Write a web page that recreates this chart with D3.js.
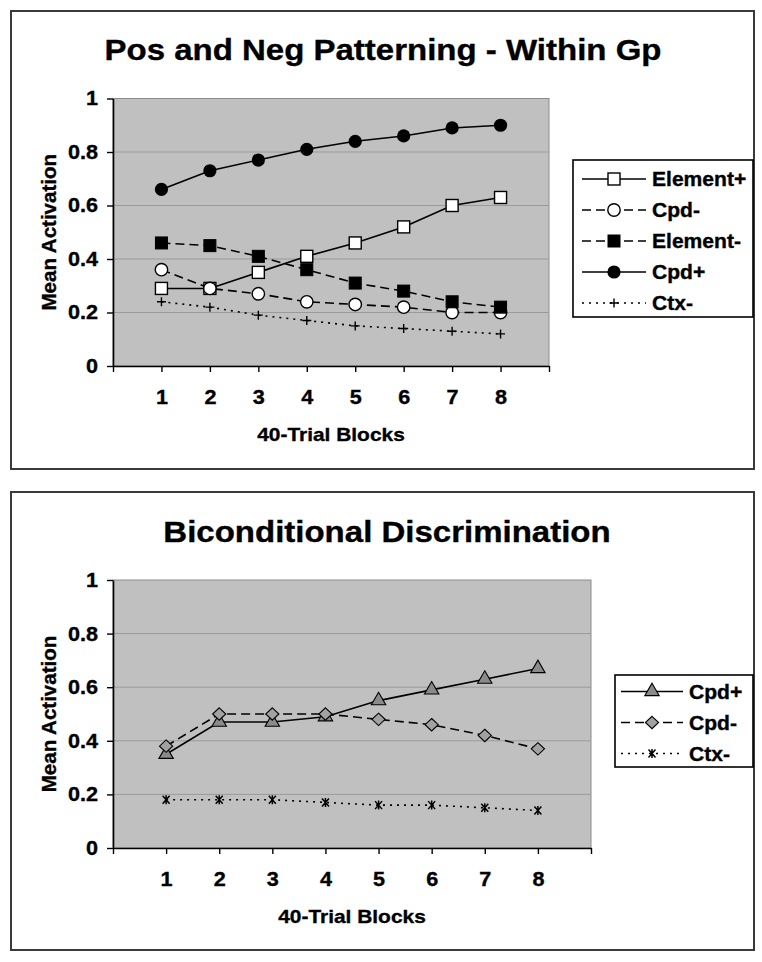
<!DOCTYPE html>
<html><head><meta charset="utf-8">
<script src="https://cdn.jsdelivr.net/npm/d3@7"></script>
<style>
body{margin:0;background:#fff}
text{font-family:"Liberation Sans",Arial,Helvetica,sans-serif;font-weight:bold;fill:#000;stroke:#000;stroke-width:0.35px}
</style>
</head><body>
<svg id="c" width="762" height="962"></svg>
<script>
// ---------- data ----------
const blocks = [1, 2, 3, 4, 5, 6, 7, 8];
const xTicks = [0, 1, 2, 3, 4, 5, 6, 7, 8, 9];
const yTicks = [0, 0.2, 0.4, 0.6, 0.8, 1];
const yTickLabels = ["0", "0.2", "0.4", "0.6", "0.8", "1"];

const topTitle = "Pos and Neg Patterning - Within Gp";
const bottomTitle = "Biconditional Discrimination";
const xTitle = "40-Trial Blocks";
const yTitle = "Mean Activation";

const topNames = ["Element+", "Cpd-", "Element-", "Cpd+", "Ctx-"];
const elementPlus  = [0.29, 0.29, 0.35, 0.41, 0.46, 0.52, 0.60, 0.63];
const cpdMinus     = [0.36, 0.29, 0.27, 0.24, 0.23, 0.22, 0.20, 0.20];
const elementMinus = [0.46, 0.45, 0.41, 0.36, 0.31, 0.28, 0.24, 0.22];
const cpdPlus      = [0.66, 0.73, 0.77, 0.81, 0.84, 0.86, 0.89, 0.90];
const ctxMinus     = [0.24, 0.22, 0.19, 0.17, 0.15, 0.14, 0.13, 0.12];

const bottomNames = ["Cpd+", "Cpd-", "Ctx-"];
const bicCpdPlus  = [0.35, 0.47, 0.47, 0.49, 0.55, 0.59, 0.63, 0.67];
const bicCpdMinus = [0.38, 0.50, 0.50, 0.50, 0.48, 0.46, 0.42, 0.37];
const bicCtxMinus = [0.18, 0.18, 0.18, 0.17, 0.16, 0.16, 0.15, 0.14];

// ---------- styles ----------
const DASH = {solid: null, dashed: "9,5", dotted: "2,5"};
const topStyles = [
  {dash: "solid", marker: "squareOpen"},
  {dash: "dashed", marker: "circleOpen"},
  {dash: "dashed", marker: "squareFilled"},
  {dash: "solid", marker: "circleFilled"},
  {dash: "dotted", marker: "plus"}
];
const bottomStyles = [
  {dash: "solid", marker: "triangle"},
  {dash: "dashed", marker: "diamond"},
  {dash: "dotted", marker: "star"}
];

const svg = d3.select("#c");
const STRETCH = 1.08;

function stretch(sel, k) {
  sel.each(function () {
    const L = this.getComputedTextLength();
    this.setAttribute("textLength", L * k);
    this.setAttribute("lengthAdjust", "spacingAndGlyphs");
  });
}

function drawMarker(g, type, x, y) {
  const m = g.append("g").attr("transform", `translate(${x},${y})`);
  switch (type) {
    case "squareOpen":
      m.append("rect").attr("x", -6).attr("y", -6).attr("width", 12).attr("height", 12)
        .attr("fill", "#fff").attr("stroke", "#000").attr("stroke-width", 1.4); break;
    case "squareFilled":
      m.append("rect").attr("x", -6).attr("y", -6).attr("width", 12).attr("height", 12)
        .attr("fill", "#000").attr("stroke", "#000").attr("stroke-width", 1); break;
    case "circleOpen":
      m.append("circle").attr("r", 6.2).attr("fill", "#fff").attr("stroke", "#000").attr("stroke-width", 1.4); break;
    case "circleFilled":
      m.append("circle").attr("r", 6.6).attr("fill", "#000"); break;
    case "plus":
      m.append("path").attr("d", "M-4.5,0H4.5M0,-4.5V4.5").attr("stroke", "#000").attr("stroke-width", 1.4); break;
    case "triangle":
      m.append("path").attr("d", d3.symbol(d3.symbolTriangle, 90)())
        .attr("fill", "#8a8a8a").attr("stroke", "#000").attr("stroke-width", 1.1); break;
    case "diamond":
      m.append("path").attr("d", "M0,-6.2L6.6,0L0,6.2L-6.6,0Z")
        .attr("fill", "#a2a2a2").attr("stroke", "#000").attr("stroke-width", 1.1); break;
    case "star":
      m.append("path").attr("d", "M-3.5,-4L3.5,4M-3.5,4L3.5,-4M0,-4.5V4.5")
        .attr("stroke", "#000").attr("stroke-width", 1.5); break;
  }
}

function panel(cfg) {
  const g = svg.append("g");
  // frame
  g.append("rect").attr("x", cfg.frame[0]).attr("y", cfg.frame[1])
    .attr("width", cfg.frame[2]).attr("height", cfg.frame[3])
    .attr("fill", "#fff").attr("stroke", "#3a3a3a").attr("stroke-width", 2);

  const [L, T, R, B] = cfg.plot;
  const x = d3.scaleLinear().domain([0, 9]).range([L, R]);
  const y = d3.scaleLinear().domain([0, 1]).range([B, T]);

  // plot area
  g.append("rect").attr("x", L).attr("y", T).attr("width", R - L).attr("height", B - T)
    .attr("fill", "#c0c0c0").attr("stroke", "#8c8c8c").attr("stroke-width", 1);
  g.selectAll(".grid").data(yTicks.filter(v => v > 0 && v < 1)).enter().append("line")
    .attr("x1", L).attr("x2", R).attr("y1", d => y(d)).attr("y2", d => y(d))
    .attr("stroke", "#9a9a9a").attr("stroke-width", 1);

  // axes
  const ya = g.append("g").attr("transform", `translate(${L},0)`)
    .call(d3.axisLeft(y).tickValues(yTicks).tickFormat((d, i) => yTickLabels[i])
      .tickSize(6).tickSizeOuter(0).tickPadding(9));
  const xa = g.append("g").attr("transform", `translate(0,${B})`)
    .call(d3.axisBottom(x).tickValues(xTicks).tickFormat(d => blocks.includes(d) ? String(d) : "")
      .tickSize(6).tickSizeOuter(0).tickPadding(18));
  [ya, xa].forEach(a => {
    a.select(".domain").attr("stroke", "#000").attr("stroke-width", 1.6);
    a.selectAll(".tick line").attr("stroke", "#000").attr("stroke-width", 1.4);
    a.selectAll("text").attr("font-size", 20).attr("font-family", null).attr("fill", "#000");
  });
  ya.selectAll(".tick text").call(stretch, STRETCH);
  xa.selectAll(".tick text").call(stretch, STRETCH);

  // titles
  g.append("text").attr("x", cfg.titlePos[0]).attr("y", cfg.titlePos[1])
    .attr("text-anchor", "middle").attr("font-size", 30).text(cfg.title).call(stretch, 1.1);
  g.append("text").attr("x", (L + R) / 2).attr("y", B + 75)
    .attr("text-anchor", "middle").attr("font-size", 19).text(xTitle).call(stretch, 1.1);
  g.append("text").attr("transform", `translate(${L - 57},${(T + B) / 2}) rotate(-90)`)
    .attr("text-anchor", "middle").attr("font-size", 20.5).text(yTitle);

  // series
  const line = d3.line().x((d, i) => x(blocks[i])).y(d => y(d));
  cfg.series.forEach((vals, si) => {
    const st = cfg.styles[si];
    g.append("path").attr("d", line(vals)).attr("fill", "none").attr("stroke", "#000")
      .attr("stroke-width", 1.6).attr("stroke-dasharray", DASH[st.dash]);
    vals.forEach((v, i) => drawMarker(g, st.marker, x(blocks[i]), y(v)));
  });

  // legend
  const [lx, ly, lw, lh] = cfg.legend;
  g.append("rect").attr("x", lx).attr("y", ly).attr("width", lw).attr("height", lh)
    .attr("fill", "#fff").attr("stroke", "#000").attr("stroke-width", 1.6);
  cfg.names.forEach((name, i) => {
    const st = cfg.styles[i];
    const ry = ly + cfg.legendFirst + i * 31;
    g.append("line").attr("x1", cfg.legendLine[0]).attr("x2", cfg.legendLine[1])
      .attr("y1", ry).attr("y2", ry).attr("stroke", "#000").attr("stroke-width", 1.5)
      .attr("stroke-dasharray", DASH[st.dash]);
    drawMarker(g, st.marker, (cfg.legendLine[0] + cfg.legendLine[1]) / 2, ry);
    g.append("text").attr("x", cfg.legendLine[1] + 6).attr("y", ry + 7)
      .attr("font-size", 19.5).text(name).call(stretch, STRETCH);
  });
}

panel({
  frame: [11, 11, 743, 458],
  plot: [113, 98.5, 549, 366],
  title: topTitle, titlePos: [383, 59.5],
  series: [elementPlus, cpdMinus, elementMinus, cpdPlus, ctxMinus],
  styles: topStyles, names: topNames,
  legend: [573, 160, 180, 157], legendFirst: 19, legendLine: [582, 646]
});
panel({
  frame: [11, 492, 743, 458],
  plot: [113, 580, 591, 848],
  title: bottomTitle, titlePos: [387, 542],
  series: [bicCpdPlus, bicCpdMinus, bicCtxMinus],
  styles: bottomStyles, names: bottomNames,
  legend: [615, 675, 138, 92], legendFirst: 16.5, legendLine: [621, 683]
});
</script>
</body></html>
